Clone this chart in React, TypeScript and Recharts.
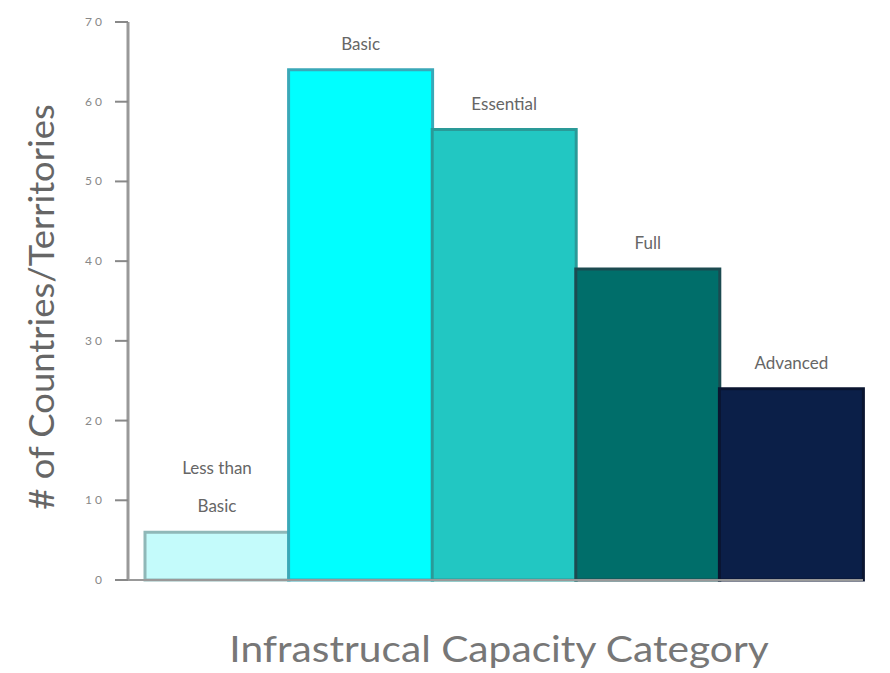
import { BarChart, Bar, XAxis, YAxis, Cell, LabelList } from "recharts";

const categories = ["Less than\nBasic", "Basic", "Essential", "Full", "Advanced"];
const counts = [6, 64, 56.5, 39, 24];
const yTicks = [0, 10, 20, 30, 40, 50, 60, 70];

const FILLS = ["#c4fbfb", "#00ffff", "#22c7c2", "#006e6a", "#0b1f48"];
const STROKES = ["#8fb8b8", "#3aa8b8", "#2a9a98", "#1c4a50", "#0a1530"];

const data = categories.map((c, i) => ({ category: c, value: counts[i] }));

const BarLabel = (props: any) => {
  const { x, y, width, value } = props;
  const lines = String(value).split("\n");
  const cx = x + width / 2;
  return (
    <text x={cx} y={y - 20 - (lines.length - 1) * 38} textAnchor="middle" fill="#666" fontSize={17}>
      {lines.map((l, i) => (
        <tspan key={i} x={cx} dy={i === 0 ? 0 : 38}>
          {l}
        </tspan>
      ))}
    </text>
  );
};

const YTick = (props: any) => {
  const { x, y, payload } = props;
  return (
    <text x={x - 8} y={y} dy={4} textAnchor="end" fill="#888" fontSize={12} letterSpacing={3}>
      {payload.value}
    </text>
  );
};

export default function App() {
  return (
    <div
      style={{
        position: "absolute",
        left: 0,
        top: 0,
        width: 890,
        height: 673,
        overflow: "hidden",
        background: "#fff",
        fontFamily: "Lato, sans-serif",
      }}
    >
      <BarChart
        width={890}
        height={673}
        data={data}
        margin={{ top: 22, right: 27, bottom: 83, left: 68 }}
        barCategoryGap={0}
      >
        <XAxis
          dataKey="category"
          tick={false}
          tickLine={false}
          axisLine={{ stroke: "#999", strokeWidth: 2 }}
          padding={{ left: 17, right: 0 }}
          height={10}
        />
        <YAxis
          domain={[0, 70]}
          ticks={yTicks}
          interval={0}
          width={60}
          tick={<YTick />}
          tickLine={{ stroke: "#888", strokeWidth: 2 }}
          tickSize={13}
          axisLine={{ stroke: "#999", strokeWidth: 3 }}
        />
        <Bar dataKey="value" isAnimationActive={false} strokeWidth={3}>
          {data.map((d, i) => (
            <Cell key={d.category} fill={FILLS[i]} stroke={STROKES[i]} />
          ))}
          <LabelList dataKey="category" content={<BarLabel />} />
        </Bar>
      </BarChart>
      <div
        style={{
          position: "absolute",
          left: 40,
          top: 307,
          transform: "translate(-50%, -50%) rotate(-90deg) scaleX(1.07)",
          whiteSpace: "nowrap",
          fontSize: 34,
          color: "#666",
        }}
      >
        # of Countries/Territories
      </div>
      <div
        style={{
          position: "absolute",
          left: 499,
          top: 648,
          transform: "translate(-50%, -50%) scaleX(1.1)",
          whiteSpace: "nowrap",
          fontSize: 37,
          lineHeight: "44px",
          color: "#777",
        }}
      >
        Infrastrucal Capacity Category
      </div>
    </div>
  );
}
